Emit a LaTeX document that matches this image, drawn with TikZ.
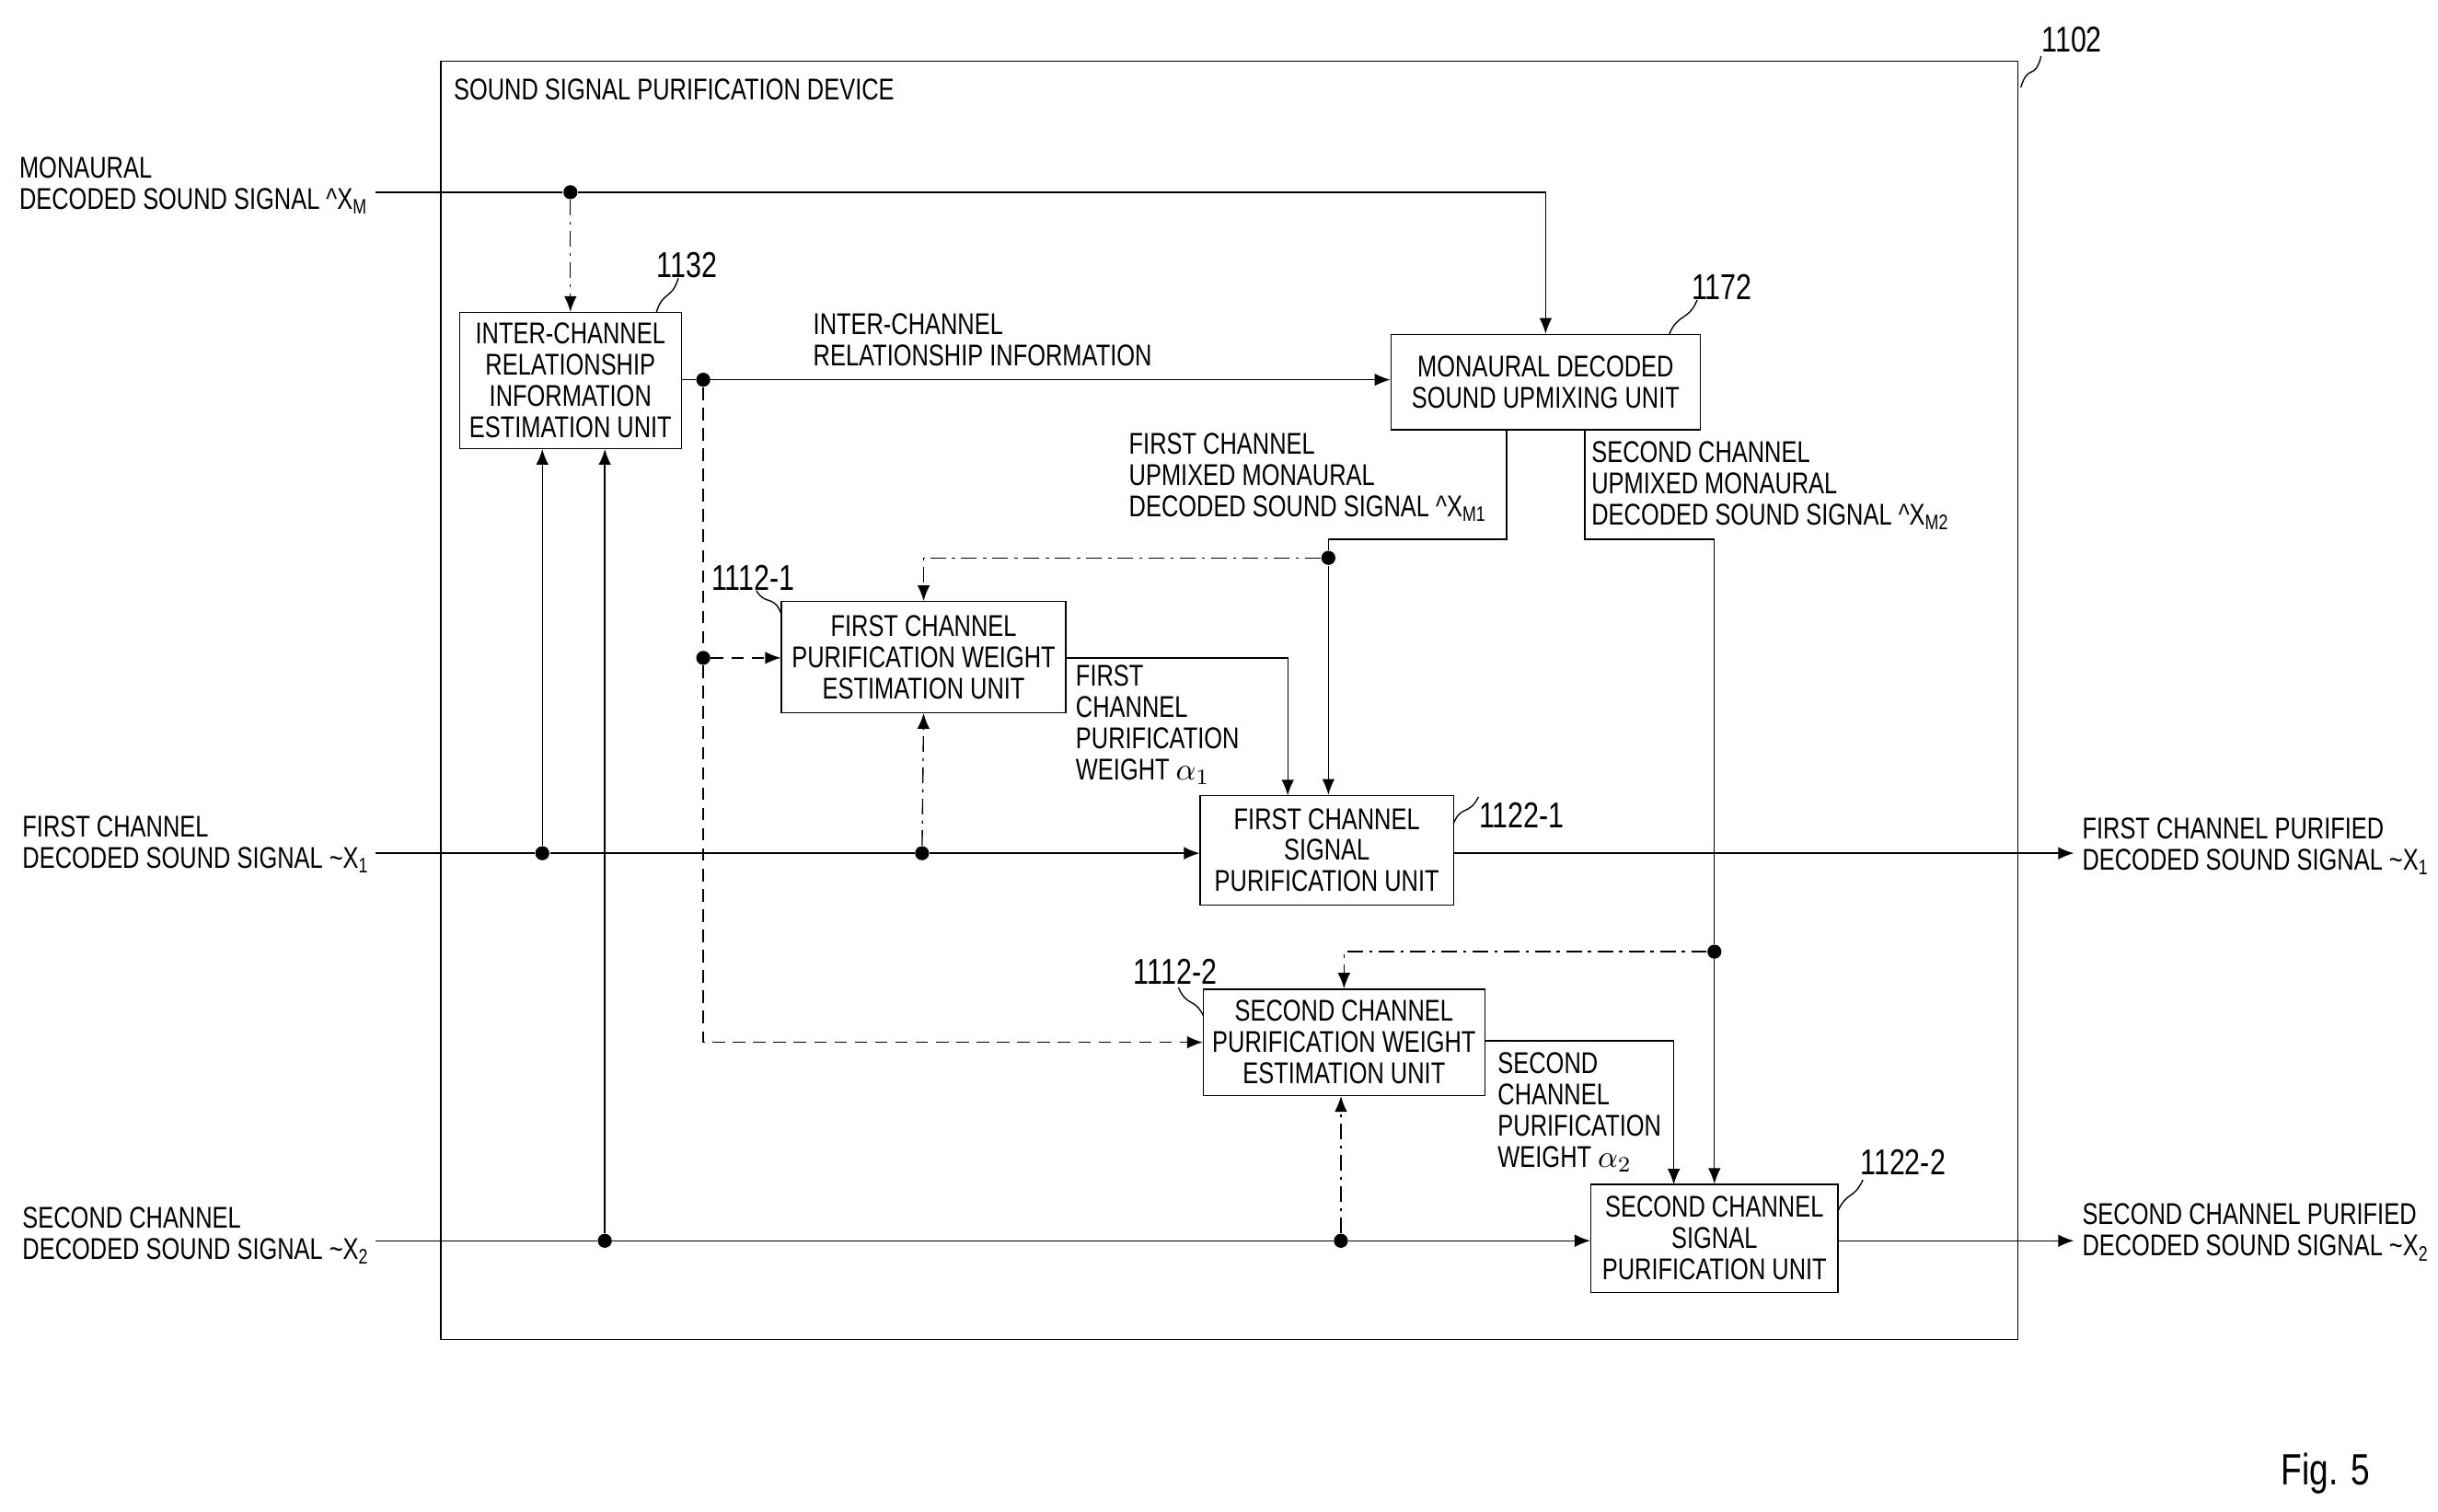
\documentclass[tikz,border=0pt]{standalone}
\usepackage{fontspec}
\setmainfont{Liberation Sans}[FakeStretch=0.78]
\usetikzlibrary{arrows.meta}
\begin{document}
\begin{tikzpicture}[x=0.5pt,y=-0.5pt,
  every node/.style={font=\fontsize{9.6}{10}\selectfont, inner sep=0pt},
  bx/.style={draw, thin, align=center},
  lbl/.style={align=left, anchor=north west},
  ref/.style={font=\fontsize{11.5}{12}\selectfont, anchor=south west},
  line/.style={thin},
  arr/.style={thin, -{Latex[length=5pt,width=4pt]}},
  dd/.style={dash pattern=on 5pt off 2pt on 1pt off 2pt},
  ds/.style={dash pattern=on 4pt off 2.5pt},
  dot/.style={circle, fill, minimum size=4.5pt, inner sep=0pt},
  sq/.style={thin}]
\useasboundingbox (0,0) rectangle (1560,967);
% outer device
\draw[thin] (282,39) rectangle (1291,857);
\node[anchor=north west] (devlbl) at (290,50) {SOUND SIGNAL PURIFICATION DEVICE};
\node[ref] (r1102) at (1306,34) {1102};
\draw[sq] (1293,56) .. controls (1298,40) and (1302,52) .. (1306,36);
% boxes
\node[bx,minimum width=71pt,minimum height=43.5pt] (b1132) at (365,243.5)
 {INTER-CHANNEL\\RELATIONSHIP\\INFORMATION\\ESTIMATION UNIT};
\node[bx,minimum width=99pt,minimum height=30.5pt] (b1172) at (989,244.5) {MONAURAL DECODED\\SOUND UPMIXING UNIT};
\node[bx,minimum width=91pt,minimum height=35.5pt] (b11121) at (591,420.5) {FIRST CHANNEL\\PURIFICATION WEIGHT\\ESTIMATION UNIT};
\node[bx,minimum width=81pt,minimum height=35pt] (b11221) at (849,544) {FIRST CHANNEL\\SIGNAL\\PURIFICATION UNIT};
\node[bx,minimum width=90pt,minimum height=34pt] (b11122) at (860,667) {SECOND CHANNEL\\PURIFICATION WEIGHT\\ESTIMATION UNIT};
\node[bx,minimum width=79pt,minimum height=34.5pt] (b11222) at (1097,792.5) {SECOND CHANNEL\\SIGNAL\\PURIFICATION UNIT};
% reference numbers
\node[ref] (r1132) at (420,178) {1132};
\draw[sq] (420,200) .. controls (424,186) and (430,192) .. (434,178);
\node[ref] (r1172) at (1082,192) {1172};
\draw[sq] (1068,214) .. controls (1074,200) and (1080,206) .. (1086,192);
\node[ref] (r11121) at (455,378) {1112-1};
\draw[sq] (500,393) .. controls (495,380) and (490,388) .. (484,378);
\node[ref] (r11221) at (946,530) {1122-1};
\draw[sq] (930,527) .. controls (935,515) and (940,522) .. (946,510);
\node[ref] (r11122) at (725,630) {1112-2};
\draw[sq] (770,650) .. controls (764,638) and (760,645) .. (754,632);
\node[ref] (r11222) at (1190,752) {1122-2};
\draw[sq] (1176,775) .. controls (1182,762) and (1186,768) .. (1192,755);
% input labels
\node[lbl] (inM) at (12,100) {MONAURAL\\DECODED SOUND SIGNAL \textasciicircum X\textsubscript{M}};
\node[lbl] (in1) at (14,522) {FIRST CHANNEL\\DECODED SOUND SIGNAL \textasciitilde X\textsubscript{1}};
\node[lbl] (in2) at (14,772) {SECOND CHANNEL\\DECODED SOUND SIGNAL \textasciitilde X\textsubscript{2}};
\node[lbl] (out1) at (1332,523) {FIRST CHANNEL PURIFIED\\DECODED SOUND SIGNAL \textasciitilde X\textsubscript{1}};
\node[lbl] (out2) at (1332,770) {SECOND CHANNEL PURIFIED\\DECODED SOUND SIGNAL \textasciitilde X\textsubscript{2}};
% inner labels
\node[lbl] (icr) at (520,200) {INTER-CHANNEL\\RELATIONSHIP INFORMATION};
\node[lbl] (um1) at (722,277) {FIRST CHANNEL\\UPMIXED MONAURAL\\DECODED SOUND SIGNAL \textasciicircum X\textsubscript{M1}};
\node[lbl] (um2) at (1018,282) {SECOND CHANNEL\\UPMIXED MONAURAL\\DECODED SOUND SIGNAL \textasciicircum X\textsubscript{M2}};
\node[lbl] (w1) at (688,425) {FIRST\\CHANNEL\\PURIFICATION\\WEIGHT $\alpha_1$};
\node[lbl] (w2) at (958,673) {SECOND\\CHANNEL\\PURIFICATION\\WEIGHT $\alpha_2$};
\node[font=\fontsize{14}{14}\selectfont] (fig) at (1488,943) {Fig. 5};
% coordinates / dots
\coordinate (sM) at (240,123);
\coordinate (s1) at (240,546);
\coordinate (s2) at (240,794);
\node[dot] (dM) at (365,123) {};
\node[dot] (d1a) at (347,546) {};
\node[dot] (d1b) at (590,546) {};
\node[dot] (d2a) at (387,794) {};
\node[dot] (d2b) at (858,794) {};
\node[dot] (dI) at (450,243) {};
\node[dot] (dI2) at (450,421) {};
\node[dot] (dU1) at (850,357) {};
\node[dot] (dU2) at (1097,609) {};
\coordinate (o1) at (1327,546);
\coordinate (o2) at (1327,794);
% monaural
\draw[line] (sM) -- (dM);
\draw[arr] (dM) -| (b1172.north);
\draw[arr,dd] (dM) -- (b1132.north);
% channel 1
\draw[line] (s1) -- (d1a) -- (d1b);
\draw[arr] (d1b) -- (b11221.west |- d1b);
\draw[arr] (d1a) -- (d1a |- b1132.south);
\draw[arr,dd] (d1b) -- (b11121.south);
\draw[arr] (b11221.east |- o1) -- (o1);
% channel 2
\draw[line] (s2) -- (d2a) -- (d2b);
\draw[arr] (d2b) -- (b11222.west |- d2b);
\draw[arr] (d2a) -- (d2a |- b1132.south);
\draw[arr,dd] (d2b) -- (d2b |- b11122.south);
\draw[arr] (b11222.east |- o2) -- (o2);
% inter-channel info
\draw[line] (b1132.east |- dI) -- (dI);
\draw[arr] (dI) -- (b1172.west |- dI);
\draw[ds] (dI) -- (dI2);
\draw[arr,ds] (dI2) -- (b11121.west |- dI2);
\draw[arr,ds] (dI2) |- (b11122.west);
% upmix outputs
\draw[line] (964,275) |- (850,345) -- (dU1);
\draw[arr,dd] (dU1) -| (b11121.north);
\draw[arr] (dU1) -- (dU1 |- b11221.north);
\draw[line] (1014,275) |- (1097,345) -- (dU2);
\draw[arr] (dU2) -- (b11222.north -| dU2);
\draw[arr,dd] (dU2) -| (b11122.north);
% weights
\draw[arr] (b11121.east |- 0,421) -| (824,509);
\draw[arr] (b11122.east |- 0,666) -| (1071,758);
\end{tikzpicture}
\end{document}
